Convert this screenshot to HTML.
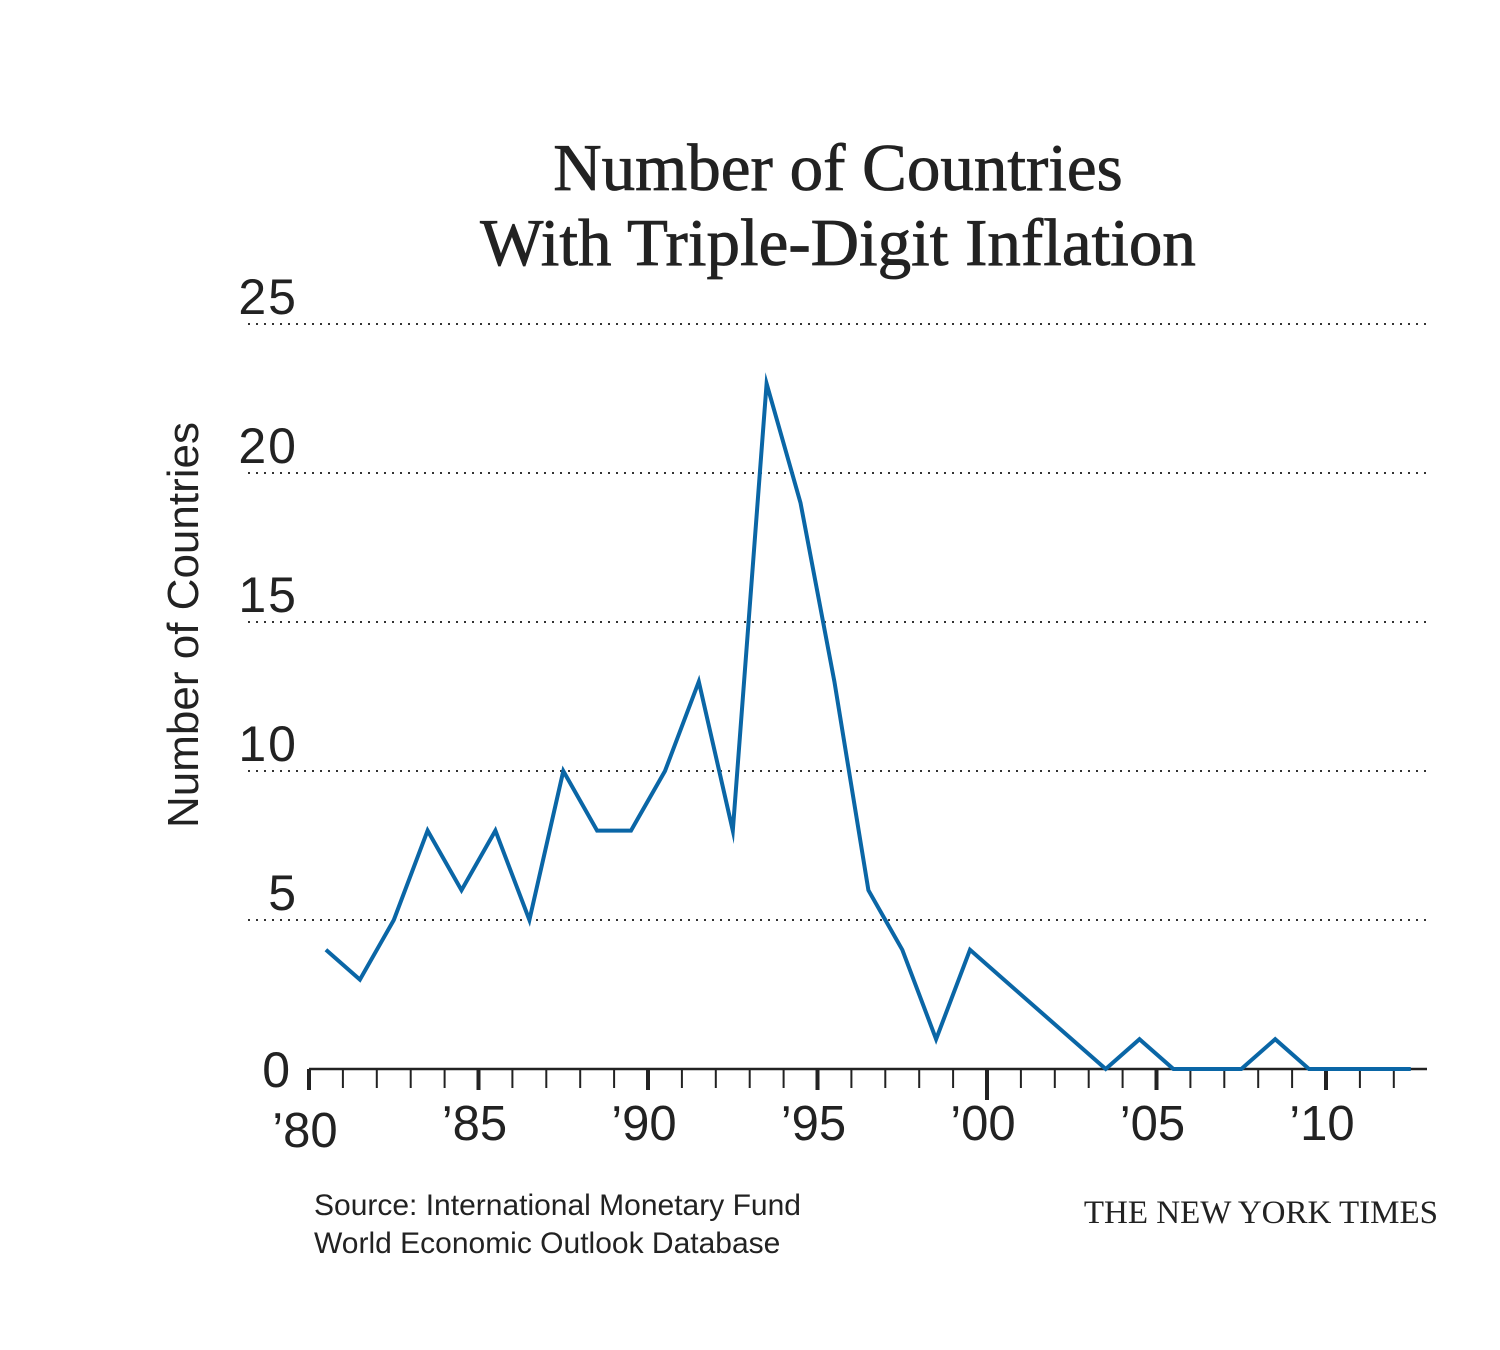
<!DOCTYPE html>
<html><head><meta charset="utf-8">
<style>
body{margin:0;background:#fff;}
svg{display:block;}
</style></head>
<body>
<svg width="1500" height="1350" viewBox="0 0 1500 1350" id="chart">
<text x="838" y="190" text-anchor="middle" font-family="Liberation Serif, serif" font-size="67" stroke="#222" stroke-width="0.8" fill="#222">Number of Countries</text>
<text x="838" y="265" text-anchor="middle" font-family="Liberation Serif, serif" font-size="67" stroke="#222" stroke-width="0.8" fill="#222">With Triple-Digit Inflation</text>
<text transform="translate(198,625) rotate(-90)" text-anchor="middle" font-family="Liberation Sans, sans-serif" font-size="44" fill="#222">Number of Countries</text>
<g id="grid"></g>
<g id="xaxis"></g>
<g id="series"></g>
<text x="314" y="1215" font-family="Liberation Sans, sans-serif" font-size="30" fill="#222">Source: International Monetary Fund</text>
<text x="314" y="1253" font-family="Liberation Sans, sans-serif" font-size="30" fill="#222">World Economic Outlook Database</text>
<text x="1438" y="1223" text-anchor="end" font-family="Liberation Serif, serif" font-size="33" fill="#222">THE NEW YORK TIMES</text>
</svg>
<script>
const years = [1980,1981,1982,1983,1984,1985,1986,1987,1988,1989,1990,1991,1992,1993,1994,1995,1996,1997,1998,1999,2000,2001,2002,2003,2004,2005,2006,2007,2008,2009,2010,2011,2012];
const countries = [4,3,5,8,6,8,5,10,8,8,10,13,8,23,19,13,6,4,1,4,3,2,1,0,1,0,0,0,1,0,0,0,0];
const yTicks = [0,5,10,15,20,25];
const xTickLabels = ["’80","’85","’90","’95","’00","’05","’10"];
const xTickYears = [1980,1985,1990,1995,2000,2005,2010];

const NS="http://www.w3.org/2000/svg";
function X(yr){return 309+(yr-1980)*33.9;}
function Y(v){return 1069-v*29.8;}
function mk(tag,attrs,parent){const e=document.createElementNS(NS,tag);for(const k in attrs)e.setAttribute(k,attrs[k]);parent.appendChild(e);return e;}
const grid=document.getElementById('grid'),xa=document.getElementById('xaxis'),ser=document.getElementById('series');

yTicks.forEach(v=>{
  if(v>0){
    const l=mk('line',{x1:248,x2:1427,y1:Y(v),y2:Y(v),stroke:'#333','stroke-width':2,'stroke-dasharray':'2 6'},grid);
    
    
  }
  const t=mk('text',{x:298,y:Y(v)-10,'text-anchor':'end','font-family':'Liberation Sans, sans-serif','font-size':50,'letter-spacing':2,fill:'#222'},grid);
  if(v===0){t.setAttribute('y',Y(v)+18);t.setAttribute('x',292);}
  t.textContent=v;
  
  
});

const ax=mk('line',{x1:309,x2:1427,y1:1069,y2:1069,stroke:'#222','stroke-width':2.5},xa);


for(let yr=1980;yr<=2012;yr++){
  const major=(yr%5===0);
  const tk=mk('line',{x1:X(yr),x2:X(yr),y1:1069,y2:major?(yr===2000?1100:1090):1088,stroke:'#222','stroke-width':major?4:2},xa);
  
  
}
xTickYears.forEach((yr,i)=>{
  const t=mk('text',{x:X(yr)-4,y:yr===1980?1147:1140,'text-anchor':'middle','font-family':'Liberation Sans, sans-serif','font-size':49,fill:'#222'},xa);
  t.textContent=xTickLabels[i];
  
  
});

const pts=years.map((yr,i)=>X(yr+0.5).toFixed(1)+','+Y(countries[i]).toFixed(1)).join(' ');
const pl=mk('polyline',{points:pts,fill:'none',stroke:'#0a66a6','stroke-width':4,'stroke-linejoin':'miter','stroke-miterlimit':10},ser);


</script>
</body></html>
